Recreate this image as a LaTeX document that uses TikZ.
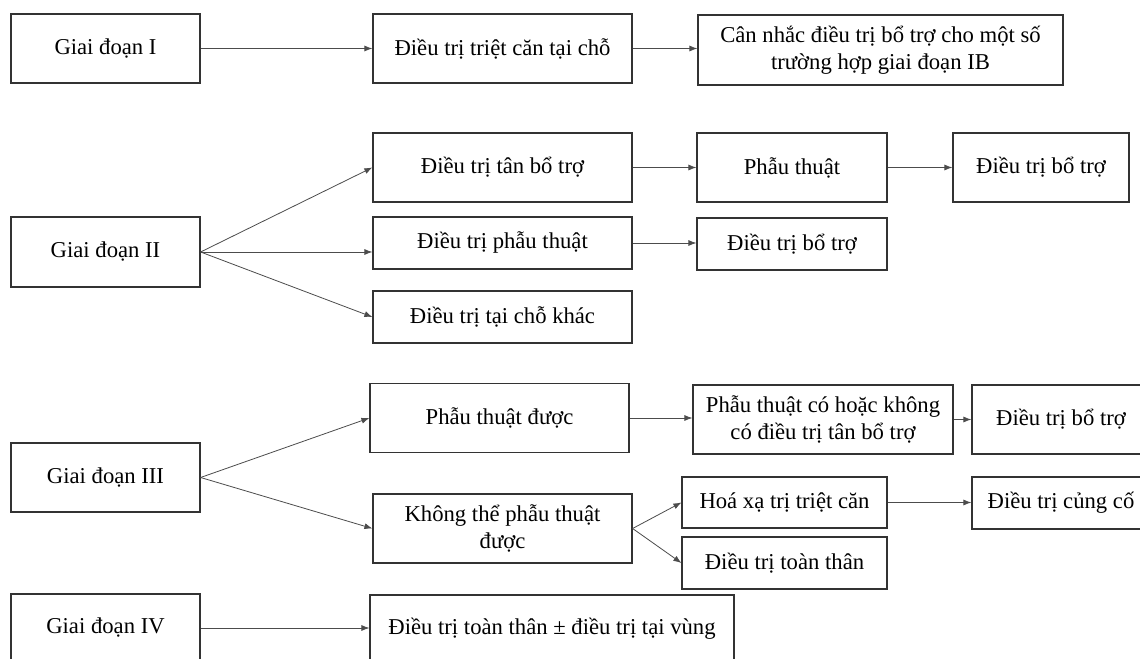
\documentclass[tikz,border=0pt]{standalone}
\usepackage{fontspec}
\setmainfont{Liberation Serif}
\usetikzlibrary{arrows.meta}
\begin{document}
\begin{tikzpicture}[x=0.75pt,y=-0.75pt,
  box/.style={draw=black!80, line width=0.9pt, align=center, inner sep=0pt,
    font=\fontsize{17}{20.25}\selectfont, text=black},
  sz/.style 2 args={minimum width=#1*0.75pt, minimum height=#2*0.75pt},
  link/.style={draw=black!70, line width=0.6pt, -{Latex[length=6pt,width=4.5pt]}}]
\useasboundingbox (0,0) rectangle (1140,659);
\fill[white] (0,0) rectangle (1140,659);
\clip (0,0) rectangle (1140,659);

% Stage I
\node[box, sz={189}{69}] (s1) at (105.5,48.5) {Giai đoạn I};
\node[box, sz={259}{69}] (t1) at (502.5,48.5) {Điều trị triệt căn tại chỗ};
\node[box, sz={365}{70}] (u1) at (880.5,50) {Cân nhắc điều trị bổ trợ cho một số\\trường hợp giai đoạn IB};
\draw[link] (s1.east) -- (t1.west);
\draw[link] (t1.east) -- (t1.east -| u1.west);

% Stage II
\node[box, sz={189}{70}] (s2) at (105.5,252) {Giai đoạn II};
\node[box, sz={259}{69}] (a2) at (502.5,167.5) {Điều trị tân bổ trợ};
\node[box, sz={259}{52}] (b2) at (502.5,243) {Điều trị phẫu thuật};
\node[box, sz={259}{52}] (c2) at (502.5,317) {Điều trị tại chỗ khác};
\node[box, sz={190}{69}] (d2) at (792,167.5) {Phẫu thuật};
\node[box, sz={176}{69}] (e2) at (1041,167.5) {Điều trị bổ trợ};
\node[box, sz={190}{52}] (f2) at (792,244) {Điều trị bổ trợ};
\draw[link] (s2.east) -- (a2.west);
\draw[link] (s2.east) -- (s2.east -| b2.west);
\draw[link] (s2.east) -- (c2.west);
\draw[link] (a2.east) -- (d2.west);
\draw[link] (d2.east) -- (e2.west);
\draw[link] (b2.east) -- (b2.east -| f2.west);

% Stage III
\node[box, sz={189}{69}] (s3) at (105.5,477.5) {Giai đoạn III};
\node[box, sz={259}{69}] (a3) at (499.5,418) {Phẫu thuật được};
\node[box, sz={259}{69}] (b3) at (502.5,528.5) {Không thể phẫu thuật\\được};
\node[box, sz={260}{69}] (c3) at (823,419.5) {Phẫu thuật có hoặc không\\có điều trị tân bổ trợ};
\node[box, sz={178}{69}] (d3) at (1061,419.5) {Điều trị bổ trợ};
\node[box, sz={205}{51}] (e3) at (784.5,502.5) {Hoá xạ trị triệt căn};
\node[box, sz={205}{52}] (f3) at (784.5,563) {Điều trị toàn thân};
\node[box, sz={178}{52}] (g3) at (1061,503) {Điều trị củng cố};
\draw[link] (s3.east) -- (a3.west);
\draw[link] (s3.east) -- (b3.west);
\draw[link] (a3.east) -- (a3.east -| c3.west);
\draw[link] (c3.east) -- (d3.west);
\draw[link] (b3.east) -- (e3.west);
\draw[link] (b3.east) -- (f3.west);
\draw[link] (e3.east) -- (e3.east -| g3.west);

% Stage IV
\node[box, sz={189}{68}] (s4) at (105.5,628) {Giai đoạn IV};
\node[box, sz={364}{68}] (a4) at (552,629) {Điều trị toàn thân ± điều trị tại vùng};
\draw[link] (s4.east) -- (s4.east -| a4.west);
\end{tikzpicture}
\end{document}
